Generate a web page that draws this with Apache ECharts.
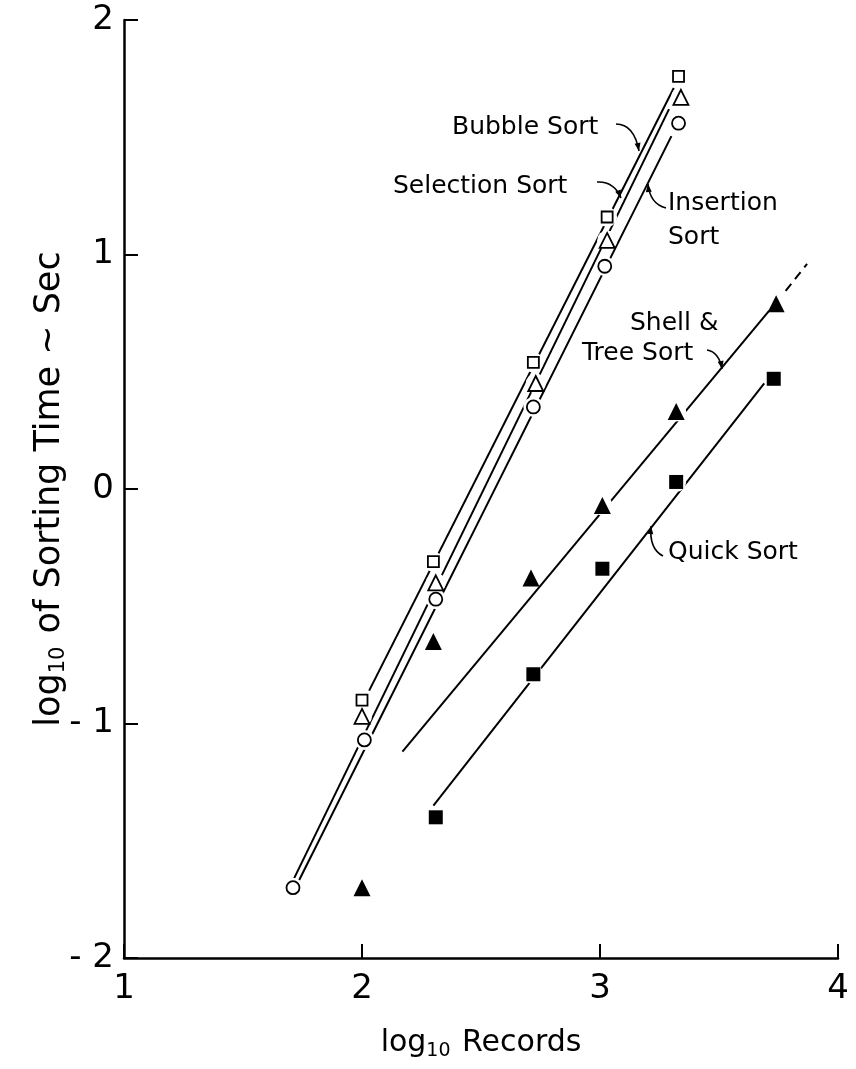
<!DOCTYPE html>
<html>
<head>
<meta charset="utf-8">
<script src="https://cdn.jsdelivr.net/npm/echarts@6/dist/echarts.min.js"></script>
<style>
html, body { margin: 0; padding: 0; background: #fff; }
#sortchart { width: 856px; height: 1069px; }
</style>
</head>
<body>
<div id="sortchart"></div>
<script>
// log10 of records vs log10 of sorting time (sec)
var bubbleX = [2.0, 2.3, 2.72, 3.03, 3.33];
var bubbleY = [-0.90, -0.31, 0.54, 1.16, 1.76];
var selectionX = [2.0, 2.31, 2.73, 3.03, 3.34];
var selectionY = [-0.97, -0.40, 0.45, 1.06, 1.67];
var insertionX = [1.71, 2.01, 2.31, 2.72, 3.02, 3.33];
var insertionY = [-1.70, -1.07, -0.47, 0.35, 0.95, 1.56];
var shellX = [2.0, 2.3, 2.71, 3.01, 3.32, 3.74];
var shellY = [-1.70, -0.65, -0.38, -0.07, 0.33, 0.79];
var quickX = [2.31, 2.72, 3.01, 3.32, 3.73];
var quickY = [-1.40, -0.79, -0.34, 0.03, 0.47];

// fitted lines (end points as drawn)
var bubbleFit = [[2.03, -0.86], [3.31, 1.71]];
var selectionFit = [[1.71, -1.67], [3.29, 1.62]];
var insertionFit = [[1.73, -1.68], [3.30, 1.505]];
var shellFit = [[2.17, -1.12], [3.76, 0.82]];
var shellDash = [[3.78, 0.845], [3.87, 0.96]];
var quickFit = [[2.30, -1.35], [3.69, 0.45]];

var xTicks = [1, 2, 3, 4];
var yTicks = [-2, -1, 0, 1, 2];

var FONT = 'DejaVu Sans';

function pairs(xs, ys) {
    var out = [];
    for (var i = 0; i < xs.length; i++) out.push([xs[i], ys[i]]);
    return out;
}

function fitLine(pts, dashed) {
    return {
        type: 'line', data: pts, symbol: 'none', silent: true, z: 2,
        lineStyle: { color: '#000', width: 2, type: dashed ? [9, 6] : 'solid' }
    };
}

function halo(pts) {
    return {
        type: 'scatter', data: pts, symbol: 'circle', symbolSize: 20, silent: true, z: 3,
        itemStyle: { color: '#fff', borderWidth: 0, opacity: 1 }
    };
}

function marks(pts, symbol, size, filled) {
    return {
        type: 'scatter', data: pts, symbol: symbol, symbolSize: size, silent: true, z: 4,
        itemStyle: filled ? { color: '#000', borderWidth: 0, opacity: 1 }
                          : { color: '#fff', borderColor: '#000', borderWidth: 1.8, opacity: 1 }
    };
}

// annotation labels and their little curved leaders (page pixels)
var notes = [
    { text: 'Bubble Sort', x: 452, y: 127 },
    { text: 'Selection Sort', x: 393, y: 186 },
    { text: 'Insertion', x: 668, y: 203 },
    { text: 'Sort', x: 668, y: 237 },
    { text: 'Shell &', x: 630, y: 323 },
    { text: 'Tree Sort', x: 582, y: 353 },
    { text: 'Quick Sort', x: 668, y: 552 }
];
var leaders = [
    [616, 124, 634, 124, 639, 151],
    [597, 182, 614, 181, 621, 198],
    [666, 208, 650, 204, 648, 184],
    [707, 350, 719, 352, 722, 369],
    [663, 556, 649, 549, 651, 526]
];

var graphics = [];
notes.forEach(function (n) {
    graphics.push({
        type: 'text', x: n.x, y: n.y, silent: true,
        style: { text: n.text, font: '25px "' + FONT + '"', fill: '#000', align: 'left', verticalAlign: 'middle' }
    });
});
leaders.forEach(function (c) {
    graphics.push({
        type: 'bezierCurve', silent: true,
        shape: { x1: c[0], y1: c[1], cpx1: c[2], cpy1: c[3], x2: c[4], y2: c[5] },
        style: { stroke: '#000', lineWidth: 1.6, fill: null }
    });
    var dx = c[4] - c[2], dy = c[5] - c[3];
    var len = Math.sqrt(dx * dx + dy * dy);
    dx /= len; dy /= len;
    var bx = c[4] - dx * 8, by = c[5] - dy * 8;
    graphics.push({
        type: 'polygon', silent: true,
        shape: { points: [[c[4], c[5]], [bx - dy * 3, by + dx * 3], [bx + dy * 3, by - dx * 3]] },
        style: { fill: '#000' }
    });
});

var dom = document.getElementById('sortchart');
var myChart = echarts.init(dom);
var option = {
    animation: false,
    backgroundColor: '#fff',
    grid: { left: 124, right: 18, top: 20, bottom: 111 },
    xAxis: {
        type: 'value', min: xTicks[0], max: xTicks[xTicks.length - 1], interval: 1,
        name: 'log{sub|10} Records', nameLocation: 'middle', nameGap: 68,
        nameTextStyle: {
            fontFamily: FONT, fontSize: 30, color: '#000',
            rich: { sub: { fontFamily: FONT, fontSize: 19, color: '#000', padding: [16, 2, 0, 0] } }
        },
        axisLine: { onZero: false, lineStyle: { color: '#000', width: 2.5 } },
        axisTick: { inside: true, length: 14, lineStyle: { color: '#000', width: 2 } },
        axisLabel: { fontFamily: FONT, fontSize: 34, color: '#000', margin: 14 },
        splitLine: { show: false }
    },
    yAxis: {
        type: 'value', min: yTicks[0], max: yTicks[yTicks.length - 1], interval: 1,
        name: 'log{sub|10} of Sorting Time ~ Sec', nameLocation: 'middle', nameGap: 55, nameRotate: 90,
        nameMoveOverlap: false,
        nameTextStyle: {
            fontFamily: FONT, fontSize: 35, color: '#000',
            rich: { sub: { fontFamily: FONT, fontSize: 21, color: '#000', padding: [18, 2, 0, 0] } }
        },
        axisLine: { onZero: false, lineStyle: { color: '#000', width: 2.5 } },
        axisTick: { inside: true, length: 14, lineStyle: { color: '#000', width: 2 } },
        axisLabel: {
            fontFamily: FONT, fontSize: 34, color: '#000', margin: 10,
            formatter: function (v) { return v < 0 ? '- ' + Math.abs(v) : String(v); }
        },
        splitLine: { show: false }
    },
    graphic: graphics,
    series: [
        fitLine(bubbleFit), fitLine(selectionFit), fitLine(insertionFit),
        fitLine(shellFit), fitLine(shellDash, true), fitLine(quickFit),
        halo(pairs(bubbleX, bubbleY)), halo(pairs(selectionX, selectionY)),
        halo(pairs(insertionX, insertionY)), halo(pairs(shellX, shellY)),
        halo(pairs(quickX, quickY)),
        marks(pairs(bubbleX, bubbleY), 'rect', 11, false),
        marks(pairs(selectionX, selectionY), 'triangle', 15, false),
        marks(pairs(insertionX, insertionY), 'circle', 13, false),
        marks(pairs(shellX, shellY), 'triangle', 17, true),
        marks(pairs(quickX, quickY), 'rect', 14, true)
    ]
};

if (option && typeof option === 'object') {
    myChart.setOption(option, true);
}
</script>
</body>
</html>
